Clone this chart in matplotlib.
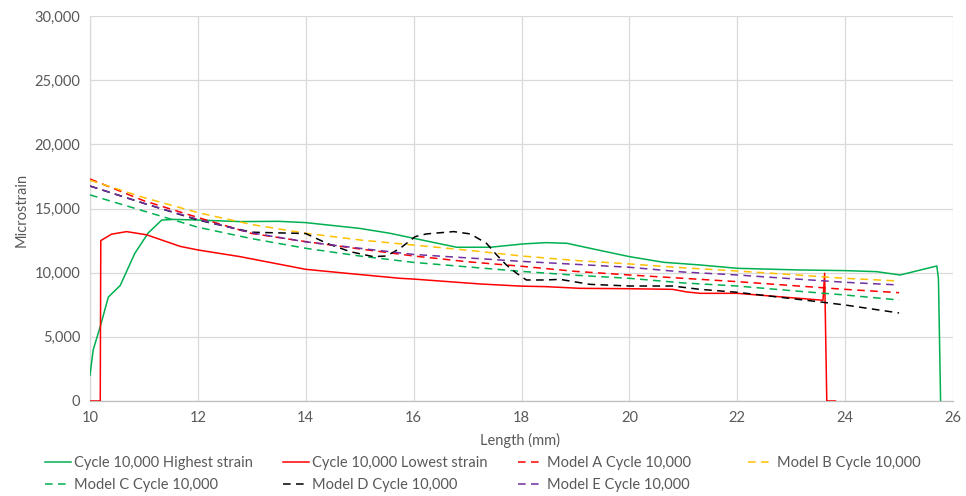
import matplotlib
matplotlib.use("Agg")
import matplotlib.pyplot as plt
from matplotlib.lines import Line2D

# Measured strain along the specimen at cycle 10,000
high_x = [10.0, 10.06, 10.19, 10.34, 10.56, 10.83, 11.08, 11.33, 11.55, 12.0, 12.78, 13.5,
          14.0, 15.0, 15.56, 16.0, 16.5, 16.8, 17.42, 18.03, 18.46, 18.84, 19.27, 20.0,
          20.63, 21.31, 22.0, 23.16, 24.0, 24.58, 25.02, 25.70, 25.73, 25.77]
high_y = [2000, 4000, 5800, 8100, 9000, 11500, 13100, 14100, 14150, 14100, 13980, 14000,
          13900, 13450, 13070, 12680, 12240, 11980, 11980, 12240, 12340, 12290, 11900, 11250,
          10810, 10600, 10340, 10210, 10160, 10080, 9820, 10520, 9560, 0]

low_x = [10.0, 10.19, 10.2, 10.4, 10.68, 11.05, 11.67, 12.0, 12.78, 14.0, 14.76, 15.75,
         16.0, 17.23, 18.0, 18.46, 19.08, 20.0, 20.8, 21.06, 21.31, 22.0, 23.59, 23.62,
         23.66, 23.82]
low_y = [0, 0, 12500, 13000, 13200, 12950, 12050, 11770, 11250, 10260, 9950, 9560,
         9500, 9120, 8950, 8910, 8780, 8750, 8700, 8500, 8390, 8390, 7850, 9950,
         0, 0]

# Model predictions
model_x = [10, 11, 12, 13, 14, 15, 16, 17, 18, 19, 20, 21, 22, 23, 24, 25]
model_a = [17300, 15600, 14300, 13050, 12420, 11850, 11300, 10850, 10500, 10100, 9820,
           9560, 9300, 9000, 8700, 8440]
model_b = [17200, 15850, 14680, 13750, 13070, 12550, 12150, 11750, 11300, 10950, 10680,
           10380, 10130, 9850, 9560, 9350]
model_c = [16060, 14800, 13540, 12650, 11900, 11300, 10800, 10450, 10100, 9800, 9560,
           9200, 8960, 8600, 8260, 7870]
model_e = [16750, 15400, 14150, 13100, 12400, 11900, 11420, 11150, 10880, 10650, 10420,
           10050, 9820, 9530, 9250, 9040]

model_d_x = [10, 11, 12, 13.0, 13.5, 14.0, 14.39, 14.82, 15.25, 15.5, 15.75, 16.03, 16.24,
             16.74, 17.05, 17.35, 17.54, 17.72, 17.91, 18.09, 18.46, 18.71, 19.27, 20.0,
             20.8, 21.31, 22.0, 23.5, 24.0, 25.0]
model_d = [16750, 15400, 14100, 13150, 13100, 13050, 12290, 11640, 11250, 11300, 11900,
           12810, 13020, 13200, 13020, 12290, 11380, 10600, 9950, 9430, 9430, 9480, 9090,
           8960, 8960, 8700, 8470, 7740, 7480, 6860]

x_ticks = [10, 12, 14, 16, 18, 20, 22, 24, 26]
y_ticks = [0, 5000, 10000, 15000, 20000, 25000, 30000]

GREEN = "#00B050"
RED = "#FF0000"
ORANGE = "#FFC000"
PURPLE = "#7030A0"
BLACK = "#000000"
TEXT = "#595959"
GRID = "#D9D9D9"

plt.rcParams["font.family"] = ["Lato", "DejaVu Sans"]

fig = plt.figure(figsize=(9.66, 4.96), dpi=100)
ax = fig.add_axes([90 / 966, 95 / 496, 863 / 966, 385 / 496])

lw = 1.1
dash = (0, (5, 3.5))
series = [
    (high_x, high_y, GREEN, "-", "Cycle 10,000 Highest strain"),
    (low_x, low_y, RED, "-", "Cycle 10,000 Lowest strain"),
    (model_x, model_a, RED, dash, "Model A Cycle 10,000"),
    (model_x, model_b, ORANGE, dash, "Model B Cycle 10,000"),
    (model_x, model_c, GREEN, dash, "Model C Cycle 10,000"),
    (model_d_x, model_d, BLACK, dash, "Model D Cycle 10,000"),
    (model_x, model_e, PURPLE, dash, "Model E Cycle 10,000"),
]
draw_order = [4, 2, 6, 3, 5, 0, 1]
for i in draw_order:
    xs, ys, c, ls, lab = series[i]
    ax.plot(xs, ys, color=c, linestyle=ls, linewidth=lw, zorder=3 + i * 0.01)

ax.set_xlim(10, 26)
ax.set_ylim(0, 30000)
ax.set_xticks(x_ticks)
ax.set_yticks(y_ticks)
ax.set_xticklabels([str(v) for v in x_ticks])
ax.set_yticklabels([f"{v:,}" for v in y_ticks])
ax.tick_params(length=0, labelsize=10.5, colors=TEXT, pad=7)
ax.grid(True, color=GRID, linewidth=0.9, zorder=0)
ax.set_axisbelow(True)
for s in ["top", "right"]:
    ax.spines[s].set_visible(False)
ax.spines["left"].set_color(GRID)
ax.spines["left"].set_linewidth(0.9)
ax.spines["bottom"].set_color("#BFBFBF")
ax.spines["bottom"].set_linewidth(0.9)

fig.text(520 / 966, 1 - 440 / 496, "Length (mm)", ha="center", va="center",
         fontsize=10.5, color=TEXT)
fig.text(22 / 966, 1 - 210 / 496, "Microstrain", ha="center", va="center",
         rotation=90, fontsize=10.5, color=TEXT)

# Legend laid out on an even grid below the plot
slots = [(45, 463), (283, 463), (518, 463), (748, 463),
         (45, 485), (283, 485), (518, 485)]
for (px, py), (xs, ys, c, ls, lab) in zip(slots, series):
    h = Line2D([], [], color=c, linestyle=ls, linewidth=lw)
    fig.legend(handles=[h], labels=[lab], loc="center left",
               bbox_to_anchor=(px / 966, 1 - py / 496), frameon=False,
               borderpad=0, borderaxespad=0, handletextpad=0.2,
               handlelength=1.8, fontsize=10.5, labelcolor=TEXT)

fig.savefig("out.png", dpi=100)
